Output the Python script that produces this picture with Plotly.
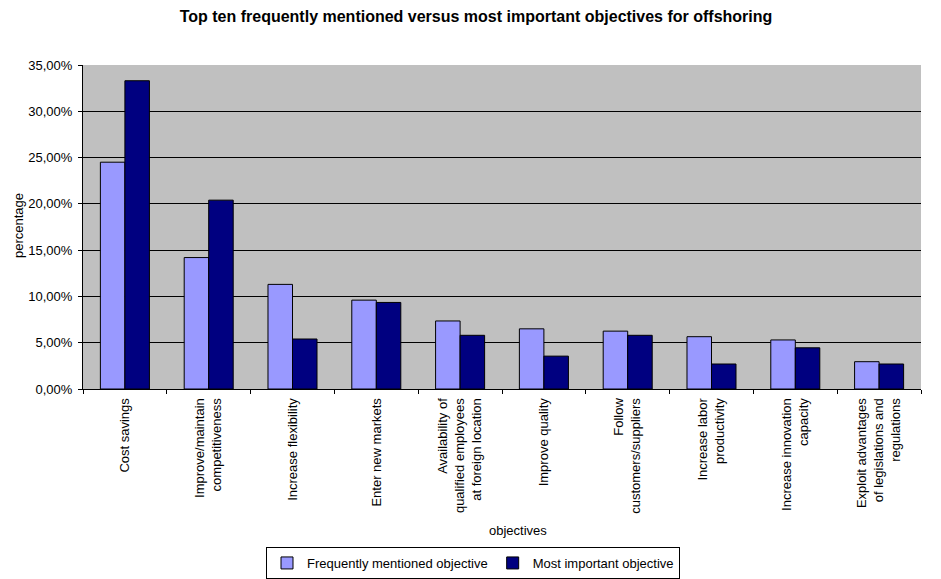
import plotly.graph_objects as go

categories = [
    "Cost savings",
    "Improve/maintain<br>competitiveness",
    "Increase flexibility",
    "Enter new markets",
    "Availability of<br>qualified employees<br>at foreign location",
    "Improve quality",
    "Follow<br>customers/suppliers",
    "Increase labor<br>productivity",
    "Increase innovation<br>capacity",
    "Exploit advantages<br>of legislations and<br>regulations",
]
frequently_mentioned = [24.5, 14.2, 11.3, 9.6, 7.35, 6.5, 6.25, 5.65, 5.3, 2.95]
most_important = [33.3, 20.4, 5.4, 9.35, 5.8, 3.55, 5.8, 2.7, 4.45, 2.7]
y_ticks = [0, 5, 10, 15, 20, 25, 30, 35]
y_tick_labels = ["0,00%", "5,00%", "10,00%", "15,00%", "20,00%", "25,00%", "30,00%", "35,00%"]

FONT = "Liberation Sans, Arial, sans-serif"

fig = go.Figure()
fig.add_trace(go.Bar(
    x=categories, y=frequently_mentioned, name="Frequently mentioned objective",
    marker=dict(color="#9999FF", line=dict(color="black", width=1)),
))
fig.add_trace(go.Bar(
    x=categories, y=most_important, name="Most important objective",
    marker=dict(color="#000080", line=dict(color="black", width=1)),
))

fig.update_layout(
    width=941, height=579,
    margin=dict(l=83, r=20, t=65, b=190),
    paper_bgcolor="white",
    plot_bgcolor="#C0C0C0",
    font=dict(family=FONT, size=13, color="black"),
    barmode="group",
    bargap=0.415,
    bargroupgap=0,
    title=dict(
        text="<b>Top ten frequently mentioned versus most important objectives for offshoring</b>",
        x=476 / 941, xref="container", xanchor="center", y=1 - 16 / 579, yanchor="middle",
        font=dict(family=FONT, size=16, color="black"),
    ),
    showlegend=True,
    legend=dict(
        orientation="h", x=473 / 941, xanchor="center", xref="container",
        y=0, yref="container", yanchor="bottom",
        bordercolor="black", borderwidth=1, bgcolor="white",
        font=dict(family=FONT, size=13, color="black"),
        itemwidth=30,
    ),
    annotations=[
        dict(text="objectives", xref="paper", yref="paper",
             x=(518 - 83) / 838, y=(389 - 530) / 324,
             xanchor="center", yanchor="middle", showarrow=False,
             font=dict(family=FONT, size=13, color="black")),
        dict(text="percentage", xref="paper", yref="paper",
             x=(18 - 83) / 838, y=(389 - 226) / 324, textangle=-90,
             xanchor="center", yanchor="middle", showarrow=False,
             font=dict(family=FONT, size=13, color="black")),
    ],
)

fig.update_xaxes(
    tickangle=-90,
    tickson="boundaries",
    ticks="outside", ticklen=4, tickcolor="black",
    showline=True, linecolor="black", linewidth=1,
    showgrid=False,
    ticklabelstandoff=3,
    tickfont=dict(family=FONT, size=13, color="black"),
)
fig.update_yaxes(
    range=[0, 35],
    tickvals=y_ticks,
    ticktext=y_tick_labels,
    ticks="outside", ticklen=4, tickcolor="black",
    showline=True, linecolor="black", linewidth=1,
    showgrid=True, gridcolor="black", gridwidth=1,
    zeroline=False,
    ticklabelstandoff=3,
    tickfont=dict(family=FONT, size=13, color="black"),
)

fig.write_html("out.html")
